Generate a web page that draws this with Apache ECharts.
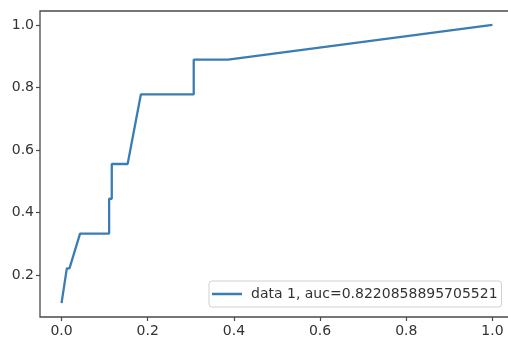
<!DOCTYPE html>
<html>
<head>
<meta charset="utf-8">
<style>html,body{margin:0;padding:0;background:#fff;overflow:hidden;}#c{width:508px;height:340px;}</style>
<script src="https://cdn.jsdelivr.net/npm/echarts@6/dist/echarts.min.js"></script>
</head>
<body>
<div id="c"></div>
<script>
// ROC curve points (fpr, tpr)
var fpr = [0, 2/163, 3/163, 7/163, 18/163, 18/163, 19/163, 19/163, 25/163, 30/163, 50/163, 50/163, 63/163, 1];
var tpr = [1/9, 2/9, 2/9, 3/9, 3/9, 4/9, 4/9, 5/9, 5/9, 7/9, 7/9, 8/9, 8/9, 1];
var xTicks = [0, 0.2, 0.4, 0.6, 0.8, 1.0];
var yTicks = [0.2, 0.4, 0.6, 0.8, 1.0];
var seriesName = 'data 1, auc=0.8220858895705521';

var pts = fpr.map(function (x, i) { return [x, tpr[i]]; });
var font = 'DejaVu Sans';
var chart = echarts.init(document.getElementById('c'), null, {renderer: 'canvas'});
chart.setOption({
  animation: false,
  backgroundColor: '#fff',
  grid: {left: 40, width: 474, top: 11, height: 306, outerBoundsMode: 'none', containLabel: false,
    show: true, borderColor: '#4a4a4a', borderWidth: 1.3, backgroundColor: 'transparent'},
  xAxis: {
    type: 'value', min: -0.05, max: 1.05,
    splitLine: {show: false},
    axisLine: {show: false, onZero: false},
    axisTick: {show: true, length: 4, lineStyle: {color: '#4a4a4a', width: 1.2}, customValues: xTicks},
    axisLabel: {margin: 7, color: '#333', fontFamily: font, fontSize: 14, customValues: xTicks,
      formatter: function (v) { return v.toFixed(1); }}
  },
  yAxis: {
    type: 'value', min: 1/9 - 0.05 * 8/9, max: 1 + 0.05 * 8/9,
    splitLine: {show: false},
    axisLine: {show: false, onZero: false},
    axisTick: {show: true, length: 4, lineStyle: {color: '#4a4a4a', width: 1.2}, customValues: yTicks},
    axisLabel: {margin: 6, color: '#333', fontFamily: font, fontSize: 14, customValues: yTicks,
      formatter: function (v) { return v.toFixed(1); }}
  },
  legend: {
    show: true,
    left: 209, top: 281,
    padding: [6, 4, 6, 3],
    borderColor: '#d0d0d0', borderWidth: 1, borderRadius: 3,
    backgroundColor: 'rgba(255,255,255,0.8)',
    icon: 'rect', itemWidth: 30, itemHeight: 2.5,
    textStyle: {fontFamily: font, fontSize: 14, color: '#333', padding: [0, 0, 0, 4]},
    data: [seriesName]
  },
  series: [{
    name: seriesName,
    type: 'line',
    data: pts,
    showSymbol: false,
    symbol: 'none',
    color: '#3a7db3',
    lineStyle: {width: 2.3, color: '#3a7db3'}
  }]
});
</script>
</body>
</html>
